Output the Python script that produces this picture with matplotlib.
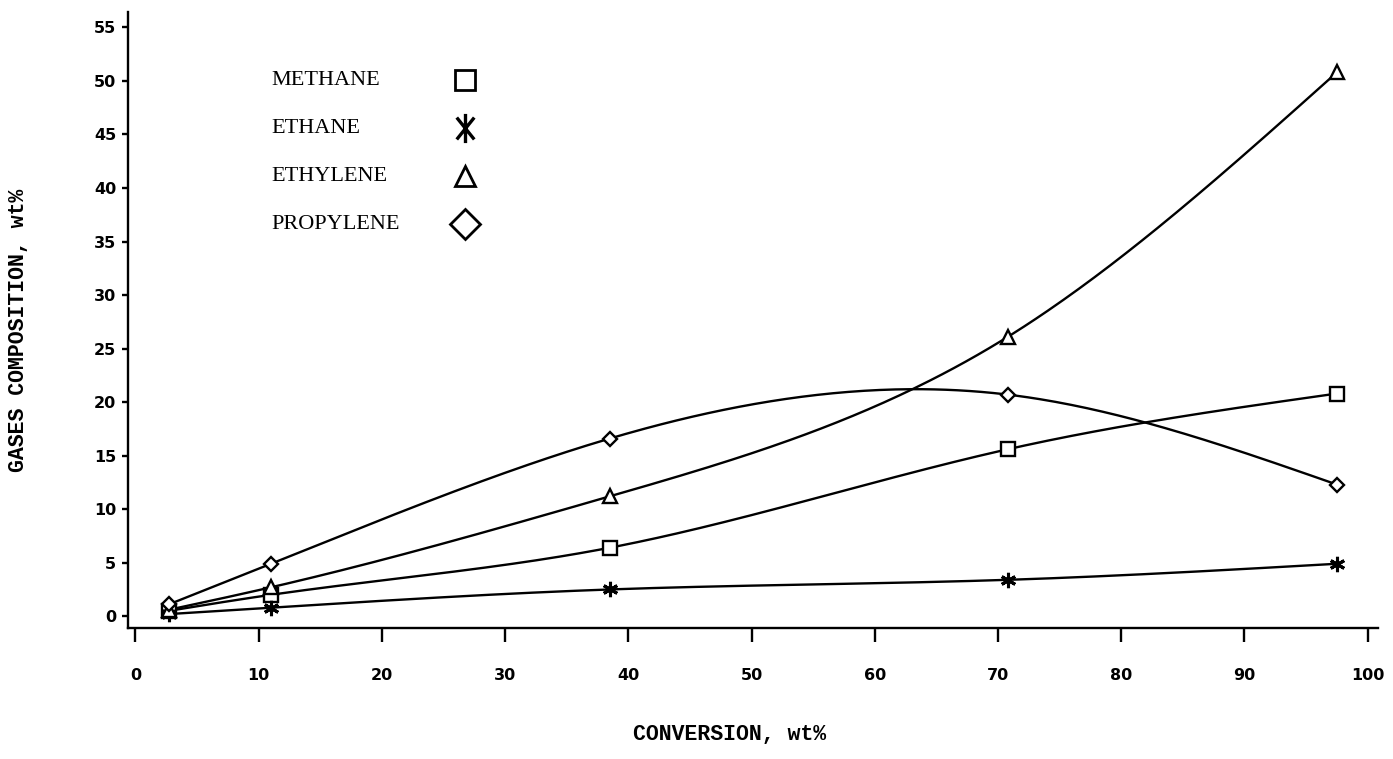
import numpy as np
import matplotlib
matplotlib.use('Agg')
import matplotlib.pyplot as plt
from matplotlib.path import Path

# conversion, wt%
conversion = [2.7, 11.0, 38.5, 70.8, 97.5]

# gases composition, wt%
methane = [0.5, 2.0, 6.4, 15.6, 20.8]
ethane = [0.2, 0.8, 2.5, 3.4, 4.9]
ethylene = [0.6, 2.7, 11.2, 26.1, 50.8]
propylene = [1.1, 4.9, 16.6, 20.7, 12.3]

labels = ['METHANE', 'ETHANE', 'ETHYLENE', 'PROPYLENE']
x_ticks = list(range(0, 101, 10))
y_ticks = list(range(0, 56, 5))

# tall asterisk like the one in the original legend
TALL_STAR = Path([(0, -1), (0, 1), (-0.6, -0.75), (0.6, 0.75), (-0.6, 0.75), (0.6, -0.75)],
                 [Path.MOVETO, Path.LINETO] * 3)


def natural_spline(x, y, n=300):
    # smooth curve through the measured points (natural cubic spline)
    x = np.asarray(x, float)
    y = np.asarray(y, float)
    k = len(x)
    h = np.diff(x)
    A = np.zeros((k, k))
    b = np.zeros(k)
    A[0, 0] = A[-1, -1] = 1
    for i in range(1, k - 1):
        A[i, i - 1] = h[i - 1]
        A[i, i] = 2 * (h[i - 1] + h[i])
        A[i, i + 1] = h[i]
        b[i] = 6 * ((y[i + 1] - y[i]) / h[i] - (y[i] - y[i - 1]) / h[i - 1])
    M = np.linalg.solve(A, b)
    xs = np.linspace(x[0], x[-1], n)
    j = np.clip(np.searchsorted(x, xs) - 1, 0, k - 2)
    t0 = x[j + 1] - xs
    t1 = xs - x[j]
    hj = h[j]
    ys = (M[j] * t0 ** 3 + M[j + 1] * t1 ** 3) / (6 * hj) \
        + (y[j] / hj - M[j] * hj / 6) * t0 + (y[j + 1] / hj - M[j + 1] * hj / 6) * t1
    return xs, ys


fig = plt.figure(figsize=(13.93, 7.59), dpi=100)
ax = fig.add_axes([0.0919, 0.1726, 0.897, 0.811])

series = [
    (methane, dict(marker='s', markersize=10)),
    (ethane, dict(marker=(6, 2, 0), markersize=11, markeredgewidth=2.2)),
    (ethylene, dict(marker='^', markersize=10.5)),
    (propylene, dict(marker='D', markersize=7.5)),
]

for vals, mk in series:
    xs, ys = natural_spline(conversion, vals)
    ax.plot(xs, ys, color='black', lw=1.7, zorder=2)
    opts = dict(markerfacecolor='white', markeredgecolor='black', markeredgewidth=1.7)
    opts.update(mk)
    ax.plot(conversion, vals, linestyle='none', zorder=3, **opts)

# legend drawn as text + marker, laid out in axes fraction
leg_markers = [
    dict(marker='s', markersize=14),
    dict(marker=TALL_STAR, markersize=21, markeredgewidth=2.4),
    dict(marker='^', markersize=14),
    dict(marker='D', markersize=15),
]
for i, (lab, mk) in enumerate(zip(labels, leg_markers)):
    yy = 0.89 - i * 0.0779
    ax.text(0.115, yy, lab, transform=ax.transAxes, fontsize=16,
            family='Liberation Serif', va='center', ha='left')
    opts = dict(markerfacecolor='white', markeredgecolor='black', markeredgewidth=2.0)
    opts.update(mk)
    ax.plot([0.27], [yy], transform=ax.transAxes, linestyle='none', clip_on=False, **opts)

ax.set_xlim(-0.6, 100.8)
ax.set_ylim(-1.1, 56.4)
ax.set_xticks(x_ticks)
ax.set_yticks(y_ticks)
for s in ['top', 'right']:
    ax.spines[s].set_visible(False)
for s in ['left', 'bottom']:
    ax.spines[s].set_linewidth(1.7)

ax.tick_params(axis='x', direction='out', length=10, width=1.7, pad=19)
ax.tick_params(axis='y', direction='out', length=4.5, width=1.7, pad=4)
for lbl in ax.get_xticklabels() + ax.get_yticklabels():
    lbl.set_fontsize(11.5)
    lbl.set_fontweight('bold')
    lbl.set_family('DejaVu Sans')

fig.text(0.524, 0.018, 'CONVERSION, wt%', family='Liberation Mono', fontsize=15.5,
         fontweight='bold', ha='center', va='bottom')
fig.text(0.006, 0.565, 'GASES COMPOSITION, wt%', family='Liberation Mono', fontsize=15.5,
         fontweight='bold', ha='left', va='center', rotation=90)

fig.savefig('out.png', dpi=100)
